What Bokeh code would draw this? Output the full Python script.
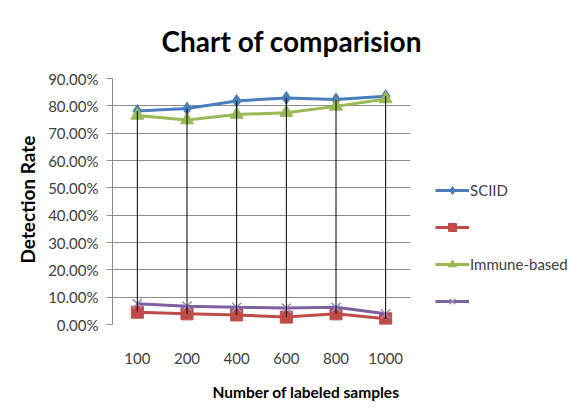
from bokeh.plotting import figure
from bokeh.models import Legend, LegendItem, Title, Range1d, NumeralTickFormatter, FixedTicker
from bokeh.embed import file_html
from bokeh.resources import INLINE

samples = ["100", "200", "400", "600", "800", "1000"]
sciid = [0.781, 0.790, 0.818, 0.829, 0.823, 0.835]
red_series = [0.045, 0.039, 0.035, 0.027, 0.039, 0.021]
immune_based = [0.765, 0.748, 0.768, 0.775, 0.798, 0.825]
purple_series = [0.076, 0.067, 0.063, 0.060, 0.063, 0.039]
y_ticks = [0.0, 0.1, 0.2, 0.3, 0.4, 0.5, 0.6, 0.7, 0.8, 0.9]

FONT = "Lato"
TXT = "#404040"

p = figure(frame_width=298, frame_height=246, x_range=samples, y_range=Range1d(0, 0.9),
           output_backend="svg", toolbar_location=None, sizing_mode="fixed",
           min_border_left=112, min_border_right=158, min_border_top=78, min_border_bottom=87)
p.outline_line_color = None
p.background_fill_color = "white"
p.border_fill_color = "white"

p.xgrid.grid_line_color = None
p.ygrid.grid_line_color = "#8c8c8c"
p.ygrid.grid_line_width = 1
p.yaxis.ticker = FixedTicker(ticks=y_ticks)
p.yaxis.formatter = NumeralTickFormatter(format="0.00%")
p.yaxis.axis_line_color = "#8c8c8c"
p.yaxis.major_tick_line_color = "#8c8c8c"
p.yaxis.major_tick_out = 6
p.yaxis.major_tick_in = 0
p.yaxis.minor_tick_line_color = None
p.yaxis.major_label_standoff = 8
p.yaxis.major_label_text_font = FONT
p.yaxis.major_label_text_font_size = "15px"
p.yaxis.major_label_text_color = TXT

p.xaxis.axis_line_color = None
p.xaxis.major_tick_line_color = None
p.xaxis.major_label_standoff = 22
p.xaxis.major_label_text_font = FONT
p.xaxis.major_label_text_font_size = "15px"
p.xaxis.major_label_text_color = TXT

colors = ["#4a7ebb", "#be4b48", "#98b954", "#7d60a0"]
series = [sciid, red_series, immune_based, purple_series]
markers = ["diamond", "square", "triangle", "x"]
sizes = [13, 12, 13, 13]
labels = ["SCIID", " ", "Immune-based", " "]
items = []
for vals, c, m, s, lab in zip(series, colors, markers, sizes, labels):
    r1 = p.line(samples, vals, line_color=c, line_width=3)
    if m == "x":
        r2 = p.scatter(samples, vals, marker=m, size=s, line_color="#9b8ac0", line_width=1.5)
    else:
        r2 = p.scatter(samples, vals, marker=m, size=s, fill_color=c, line_color=c)
    items.append(LegendItem(label=lab, renderers=[r1, r2]))

lows = [min(v) for v in zip(*series)]
highs = [max(v) for v in zip(*series)]
p.segment(x0=samples, y0=lows, x1=samples, y1=highs, line_color="black", line_width=1)

legend = Legend(items=items, location=(25, 13), orientation="vertical",
                border_line_color=None, background_fill_alpha=0,
                label_text_font=FONT, label_text_font_size="15px", label_text_color=TXT,
                glyph_width=34, glyph_height=20, label_height=20, spacing=17,
                padding=0, margin=0, label_standoff=1)
p.add_layout(legend, "right")

p.add_layout(Title(text="Chart of comparision", align="left", offset=49, standoff=41,
                   text_font=FONT, text_font_style="bold", text_font_size="28px",
                   text_color="black"), "above")
p.add_layout(Title(text="Number of labeled samples", align="left", offset=100, standoff=28,
                   text_font=FONT, text_font_style="bold", text_font_size="15.5px",
                   text_color="black"), "below")
p.add_layout(Title(text="Detection Rate", align="left", offset=61, standoff=14,
                   text_font=FONT, text_font_style="bold", text_font_size="19px",
                   text_color="black"), "left")

open("out.html", "w").write(file_html(p, INLINE))
